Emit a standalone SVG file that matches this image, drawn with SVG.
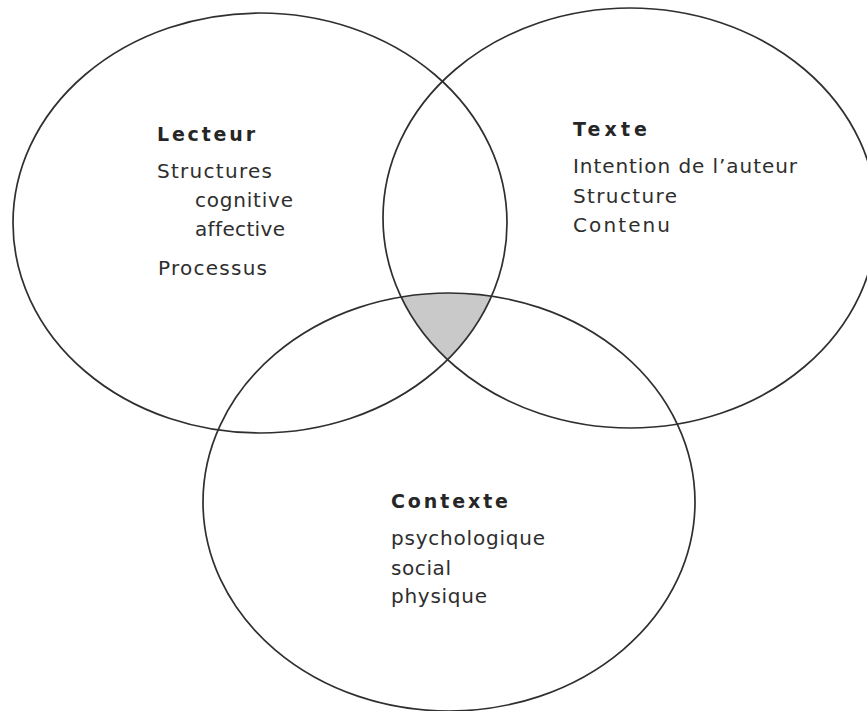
<svg xmlns="http://www.w3.org/2000/svg" width="867" height="711" viewBox="0 0 867 711">
  <style>
    .ring { fill: none; stroke: #2f2f2f; stroke-width: 1.7; }
    text { font-family: "DejaVu Sans", "Open Sans", "Liberation Sans", sans-serif; font-size: 20px; font-variant-ligatures: none; }
    .title { font-weight: bold; fill: #262626; font-size: 19px; }
    .item { fill: #2e2e2e; }
  </style>
  <defs>
    <clipPath id="clipLecteur"><ellipse cx="260" cy="223" rx="247" ry="210"/></clipPath>
    <clipPath id="clipContexte"><ellipse cx="449" cy="502" rx="246" ry="209"/></clipPath>
  </defs>
  <rect width="867" height="711" fill="#ffffff"/>

  <!-- common zone of the three circles -->
  <g id="intersection" clip-path="url(#clipLecteur)">
    <ellipse cx="630" cy="218" rx="247" ry="210" fill="#c9c9c9" clip-path="url(#clipContexte)"/>
  </g>

  <g id="lecteur">
    <ellipse class="ring" cx="260" cy="223" rx="247" ry="210"/>
    <text class="title" x="157" y="141" textLength="98" lengthAdjust="spacing">Lecteur</text>
    <text class="item" x="157" y="178" textLength="115" lengthAdjust="spacing">Structures</text>
    <text class="item" x="195" y="207" textLength="98" lengthAdjust="spacing">cognitive</text>
    <text class="item" x="195" y="236" textLength="90" lengthAdjust="spacing">affective</text>
    <text class="item" x="158" y="275" textLength="109" lengthAdjust="spacing">Processus</text>
  </g>

  <g id="texte">
    <ellipse class="ring" cx="630" cy="218" rx="247" ry="210"/>
    <text class="title" x="573" y="136" textLength="74" lengthAdjust="spacing">Texte</text>
    <text class="item" x="573" y="173" textLength="224" lengthAdjust="spacing">Intention de l’auteur</text>
    <text class="item" x="573" y="203" textLength="104" lengthAdjust="spacing">Structure</text>
    <text class="item" x="573" y="232" textLength="97" lengthAdjust="spacing">Contenu</text>
  </g>

  <g id="contexte">
    <ellipse class="ring" cx="449" cy="502" rx="246" ry="209"/>
    <text class="title" x="391" y="508" textLength="117" lengthAdjust="spacing">Contexte</text>
    <text class="item" x="391" y="545" textLength="154" lengthAdjust="spacing">psychologique</text>
    <text class="item" x="391" y="575" textLength="60" lengthAdjust="spacing">social</text>
    <text class="item" x="391" y="603" textLength="96" lengthAdjust="spacing">physique</text>
  </g>
</svg>
